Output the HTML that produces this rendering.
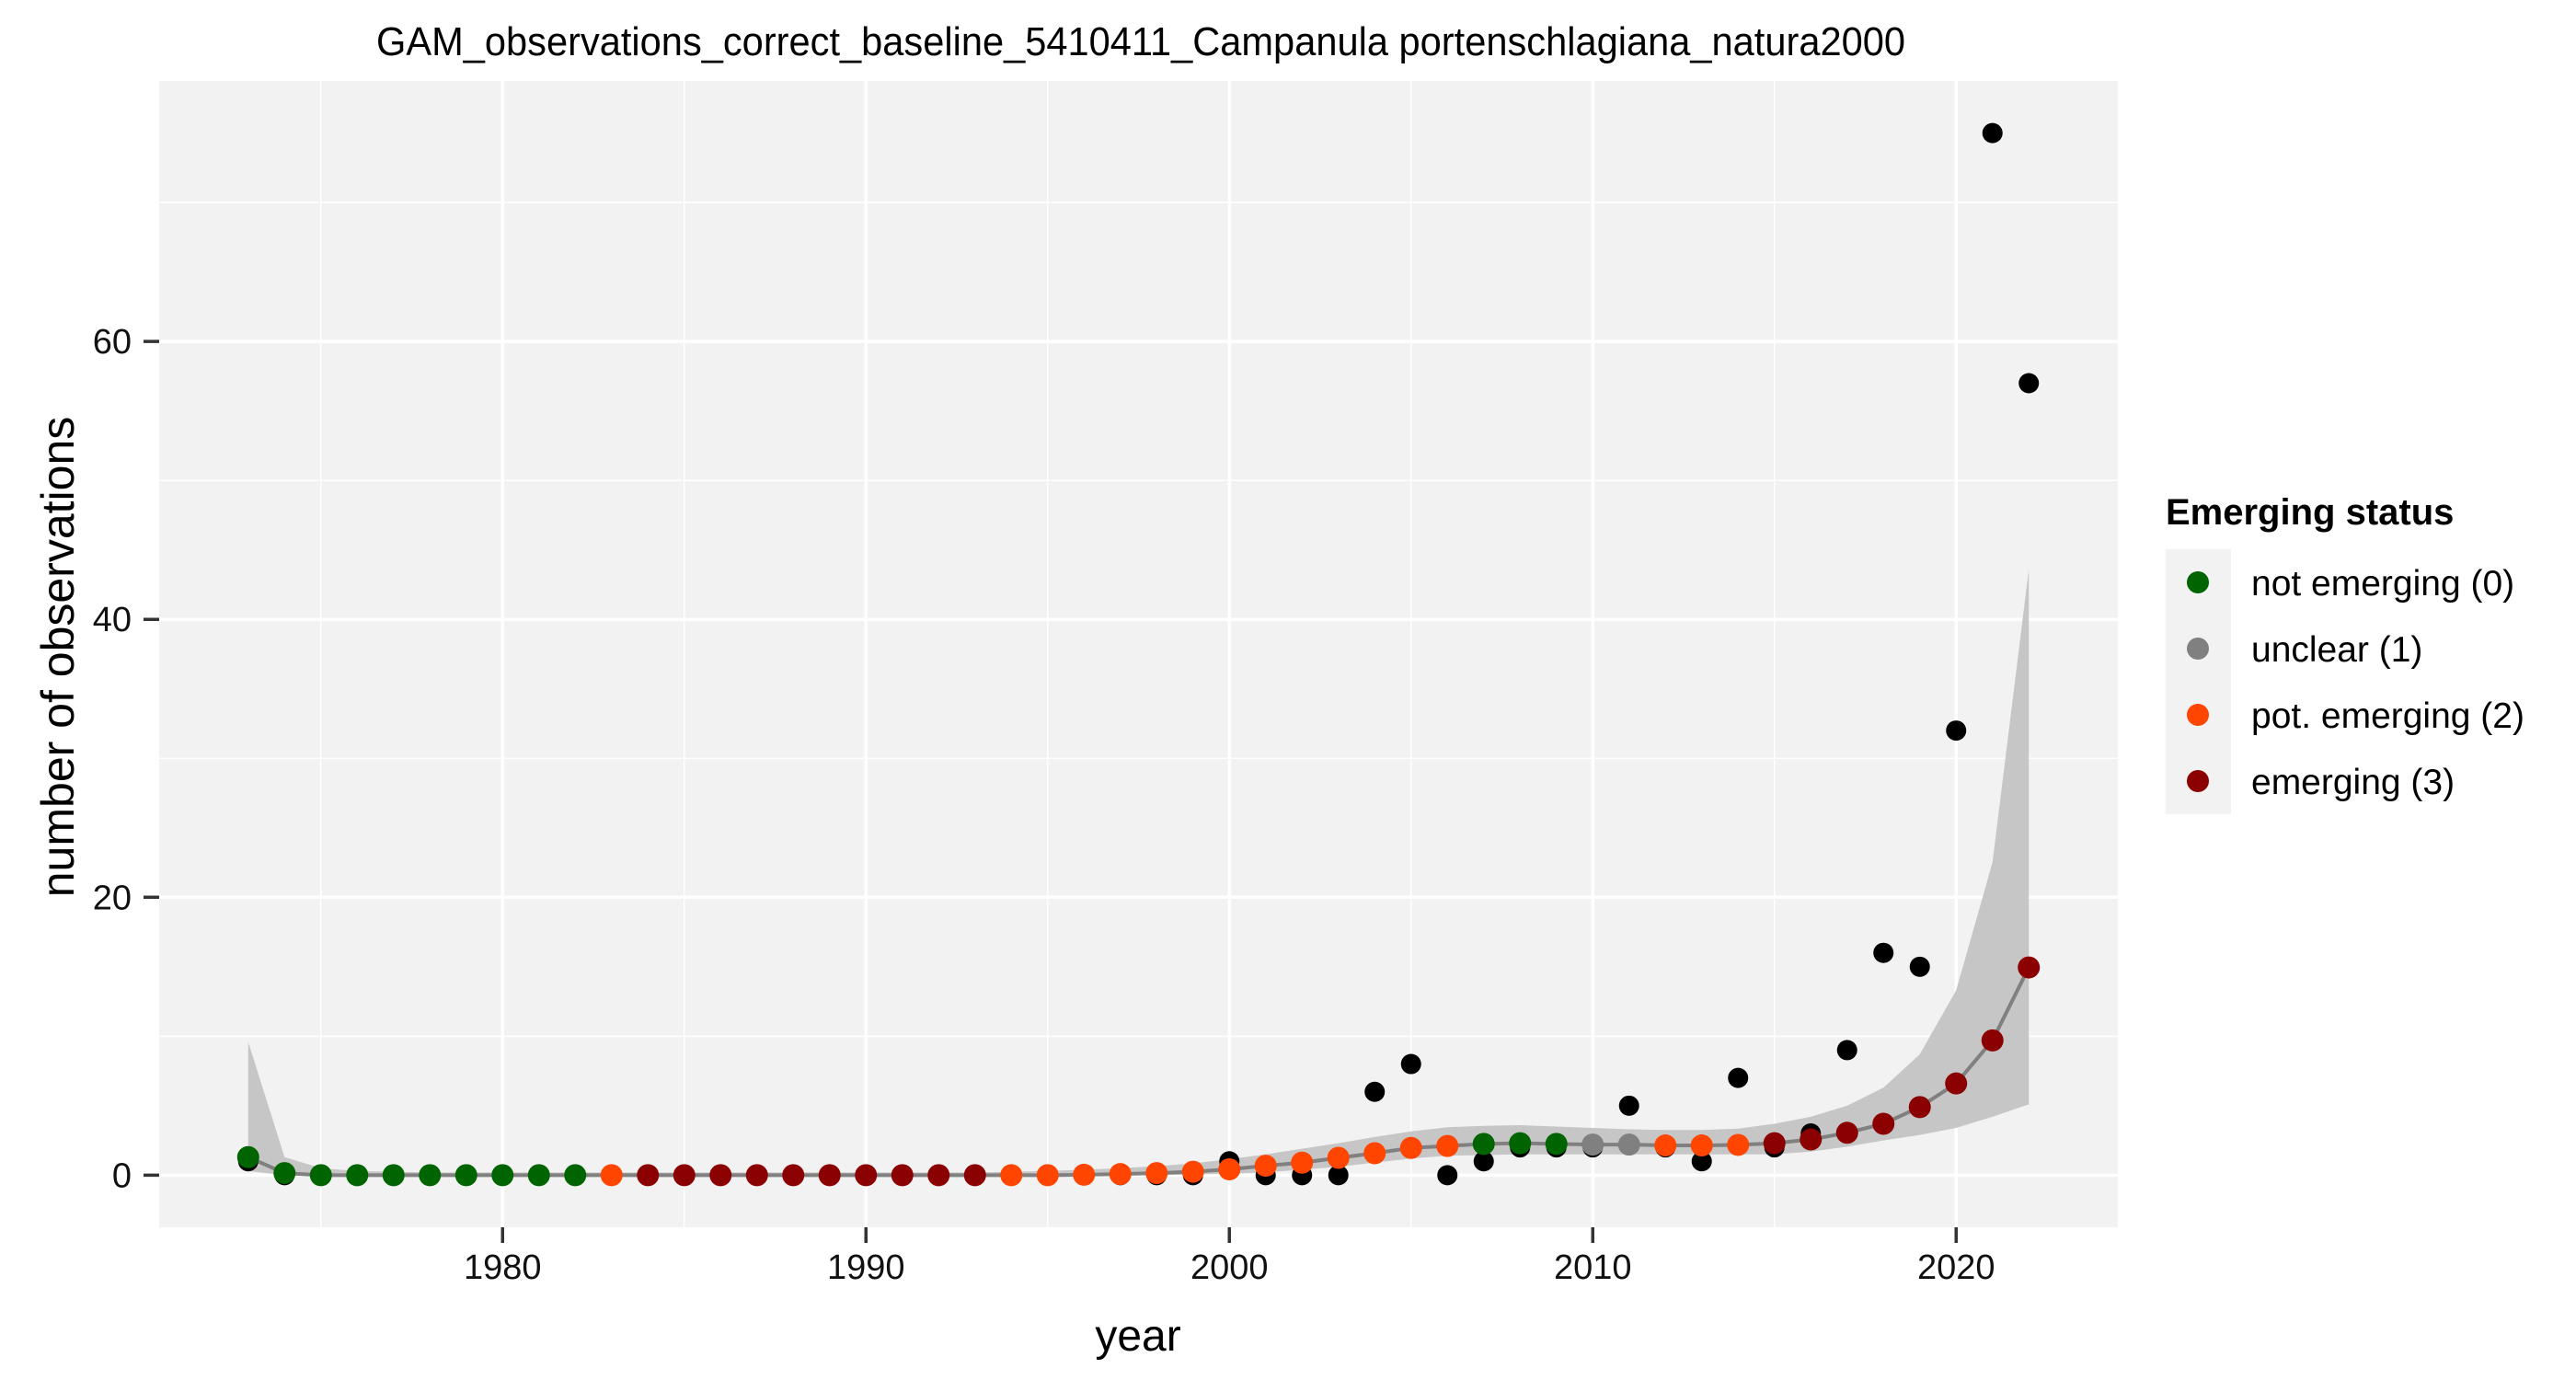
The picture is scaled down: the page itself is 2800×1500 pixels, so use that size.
<!DOCTYPE html>
<html><head><meta charset="utf-8"><style>
html,body{margin:0;padding:0;background:#fff;}
svg{display:block;font-family:"Liberation Sans",Arial,sans-serif;}
</style></head><body>
<svg id="chart" width="2800" height="1500" viewBox="0 0 2800 1500" xmlns="http://www.w3.org/2000/svg">
<rect x="0" y="0" width="2800" height="1500" fill="#fff"/>
<rect x="173" y="88" width="2129" height="1246" fill="#f2f2f2"/>
<g id="grid"></g>
<g id="band"></g>
<g id="line"></g>
<g id="obs"></g>
<g id="fit"></g>
<g id="axes"></g>
<text x="1240" y="60" text-anchor="middle" font-size="44" textLength="1662" lengthAdjust="spacingAndGlyphs" fill="#000">GAM_observations_correct_baseline_5410411_Campanula portenschlagiana_natura2000</text>
<text x="1237" y="1468" text-anchor="middle" font-size="48" fill="#000">year</text>
<text transform="translate(80,714) rotate(-90)" text-anchor="middle" font-size="50" fill="#000">number of observations</text>
<g>
<text x="2354" y="570" font-size="40" font-weight="bold" fill="#000">Emerging status</text>
<rect x="2354" y="597" width="71" height="288" fill="#f2f2f2"/>
<g><circle cx="2389" cy="633" r="12" fill="#006400"/><text x="2447" y="647" font-size="39" fill="#000">not emerging (0)</text></g>
<g><circle cx="2389" cy="705" r="12" fill="#808080"/><text x="2447" y="719" font-size="39" fill="#000">unclear (1)</text></g>
<g><circle cx="2389" cy="777" r="12" fill="#ff4500"/><text x="2447" y="791" font-size="39" fill="#000">pot. emerging (2)</text></g>
<g><circle cx="2389" cy="849" r="12" fill="#8b0000"/><text x="2447" y="863" font-size="39" fill="#000">emerging (3)</text></g>
</g>
</svg>
<script>
const years = [1973,1974,1975,1976,1977,1978,1979,1980,1981,1982,1983,1984,1985,1986,1987,1988,1989,1990,1991,1992,1993,1994,1995,1996,1997,1998,1999,2000,2001,2002,2003,2004,2005,2006,2007,2008,2009,2010,2011,2012,2013,2014,2015,2016,2017,2018,2019,2020,2021,2022];
const observed = [1,0,0,0,0,0,0,0,0,0,0,0,0,0,0,0,0,0,0,0,0,0,0,0,0,0,0,1,0,0,0,6,8,0,1,2,2,2,5,2,1,7,2,3,9,16,15,32,75,57];
const fitted = [1.3,0.15,0,0,0,0,0,0,0,0,0,0,0,0,0,0,0,0,0,0,0,0,0,0.03,0.08,0.15,0.25,0.42,0.68,0.9,1.25,1.58,1.96,2.1,2.25,2.3,2.25,2.2,2.2,2.14,2.14,2.18,2.3,2.57,3.05,3.7,4.9,6.6,9.7,14.95];
const upper = [9.6,1.3,0.5,0.3,0.25,0.2,0.2,0.2,0.2,0.2,0.2,0.2,0.2,0.2,0.2,0.2,0.2,0.2,0.2,0.2,0.2,0.25,0.3,0.4,0.5,0.65,0.85,1.15,1.5,1.9,2.3,2.75,3.15,3.45,3.55,3.6,3.5,3.4,3.3,3.25,3.25,3.35,3.7,4.2,5.0,6.3,8.7,13.3,22.5,43.6];
const lower = [0.3,0,-0.1,-0.1,-0.1,-0.1,-0.1,-0.1,-0.1,-0.1,-0.1,-0.1,-0.1,-0.1,-0.1,-0.1,-0.1,-0.1,-0.1,-0.1,-0.1,-0.1,-0.1,-0.05,0,0,0.05,0.1,0.2,0.4,0.6,0.9,1.2,1.4,1.45,1.5,1.5,1.5,1.5,1.5,1.5,1.5,1.5,1.7,2.05,2.5,2.9,3.4,4.2,5.1];
const status = [0,0,0,0,0,0,0,0,0,0,2,3,3,3,3,3,3,3,3,3,3,2,2,2,2,2,2,2,2,2,2,2,2,2,0,0,0,1,1,2,2,2,3,3,3,3,3,3,3,3];
const xTicks = [1980,1990,2000,2010,2020];
const xMinor = [1975,1985,1995,2005,2015];
const yTicks = [0,20,40,60];
const yMinor = [10,30,50,70];
const statusColors = ['#006400','#808080','#ff4500','#8b0000'];

const NS='http://www.w3.org/2000/svg';
const PX0=173, PX1=2302, PY0=88, PY1=1334;
const xmin=1970.55, xmax=2024.45, ymin=-3.75, ymax=78.75;
function sx(v){return PX0+(v-xmin)/(xmax-xmin)*(PX1-PX0);}
function sy(v){return PY1-(v-ymin)/(ymax-ymin)*(PY1-PY0);}
function mk(tag,attrs,parent){const e=document.createElementNS(NS,tag);for(const k in attrs)e.setAttribute(k,attrs[k]);parent.appendChild(e);return e;}

const grid=document.getElementById('grid');
yMinor.forEach(v=>{const l=mk('line',{x1:PX0,x2:PX1,y1:sy(v),y2:sy(v),stroke:'#fff','stroke-width':1.5},grid);

});
xMinor.forEach(v=>{const l=mk('line',{x1:sx(v),x2:sx(v),y1:PY0,y2:PY1,stroke:'#fff','stroke-width':1.5},grid);

});
yTicks.forEach(v=>{const l=mk('line',{x1:PX0,x2:PX1,y1:sy(v),y2:sy(v),stroke:'#fff','stroke-width':3.5},grid);

});
xTicks.forEach(v=>{const l=mk('line',{x1:sx(v),x2:sx(v),y1:PY0,y2:PY1,stroke:'#fff','stroke-width':3.5},grid);

});

let d='';
years.forEach((y,i)=>{d+=(i?'L':'M')+sx(y)+','+sy(upper[i]);});
for(let i=years.length-1;i>=0;i--){d+='L'+sx(years[i])+','+sy(lower[i]);}
const band=mk('path',{d:d+'Z',fill:'#c6c6c6'},document.getElementById('band'));



let ld='';
years.forEach((y,i)=>{ld+=(i?'L':'M')+sx(y)+','+sy(fitted[i]);});
const ln=mk('path',{d:ld,fill:'none',stroke:'#808080','stroke-width':4},document.getElementById('line'));



const obs=document.getElementById('obs');
years.forEach((y,i)=>{const c=mk('circle',{cx:sx(y),cy:sy(observed[i]),r:11,fill:'#000'},obs);

});
const fit=document.getElementById('fit');
years.forEach((y,i)=>{const c=mk('circle',{cx:sx(y),cy:sy(fitted[i]),r:12,fill:statusColors[status[i]]},fit);

});

const axes=document.getElementById('axes');
xTicks.forEach(v=>{const t=mk('line',{x1:sx(v),x2:sx(v),y1:PY1,y2:PY1+17,stroke:'#333','stroke-width':3.5},axes);


const tx=mk('text',{x:sx(v),y:1390,'text-anchor':'middle','font-size':38,fill:'#111'},axes);tx.textContent=v;

});
yTicks.forEach(v=>{const t=mk('line',{x1:PX0-17,x2:PX0,y1:sy(v),y2:sy(v),stroke:'#333','stroke-width':3.5},axes);


const tx=mk('text',{x:143,y:sy(v)+13,'text-anchor':'end','font-size':38,fill:'#111'},axes);tx.textContent=v;

});
</script>
</body></html>
